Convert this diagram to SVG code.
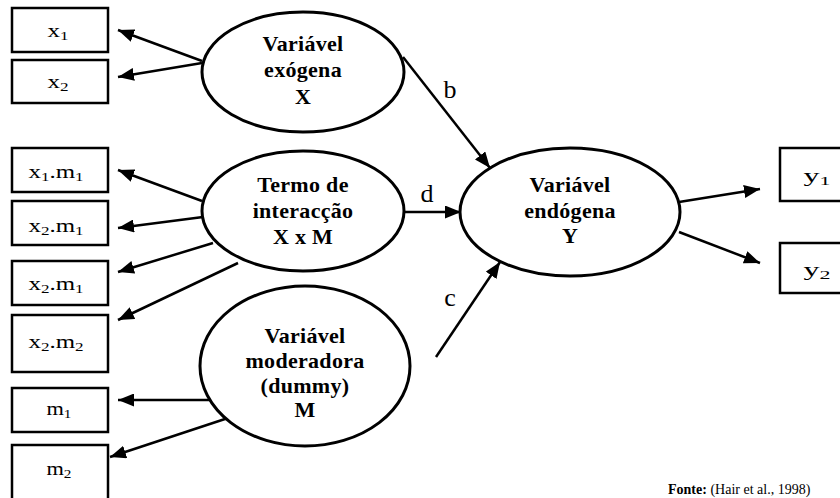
<svg xmlns="http://www.w3.org/2000/svg" width="840" height="498" viewBox="0 0 840 498">
  <defs>
    <marker id="arrow" markerUnits="userSpaceOnUse" markerWidth="16" markerHeight="13" refX="16" refY="6.5" orient="auto">
      <path d="M0,0 L16,6.5 L0,13 z" fill="#000"/>
    </marker>
    <style>
      .box { fill: #fff; stroke: #000; stroke-width: 2.5; }
      .lv { fill: #fff; stroke: #000; stroke-width: 3; }
      .edge { fill: none; stroke: #000; stroke-width: 2.5; marker-end: url(#arrow); }
      text { font-family: 'Liberation Serif', 'DejaVu Serif', serif; fill: #000; }
      .ind { font-size: 19px; text-anchor: middle; }
      .sub { font-size: 13px; }
      .lvt { font-size: 22px; font-weight: bold; letter-spacing: 0.3px; text-anchor: middle; }
      .lab { font-size: 26px; text-anchor: middle; }
      .src { font-size: 14px; }
    </style>
  </defs>
  <rect width="840" height="498" fill="#fff"/>

  <!-- connectors -->
  <g id="connectors">
    <line class="edge" x1="202" y1="61" x2="118" y2="30"/>
    <line class="edge" x1="202" y1="63" x2="118" y2="77"/>
    <line class="edge" x1="403" y1="57" x2="490" y2="168"/>
    <line class="edge" x1="202" y1="201" x2="118" y2="170"/>
    <line class="edge" x1="203" y1="217" x2="118" y2="228"/>
    <line class="edge" x1="213" y1="243" x2="118" y2="272"/>
    <line class="edge" x1="238" y1="263" x2="118" y2="320"/>
    <line class="edge" x1="405" y1="212" x2="461" y2="212"/>
    <line class="edge" x1="213" y1="400" x2="118" y2="400"/>
    <line class="edge" x1="228" y1="418" x2="110" y2="457"/>
    <line class="edge" x1="436" y1="357" x2="500" y2="262"/>
    <line class="edge" x1="679" y1="202" x2="760" y2="189"/>
    <line class="edge" x1="679" y1="232" x2="760" y2="263"/>
    <text class="lab" x="450" y="98">b</text>
    <text class="lab" x="427" y="202">d</text>
    <text class="lab" x="450" y="306">c</text>
  </g>

  <!-- observed indicators -->
  <g id="ind-x1"><rect class="box" x="12" y="8" width="96" height="44"/><text class="ind" x="58" y="37" textLength="21" lengthAdjust="spacingAndGlyphs">x<tspan class="sub" dy="3">1</tspan></text></g>
  <g id="ind-x2"><rect class="box" x="12" y="60" width="96" height="43"/><text class="ind" x="58" y="88" textLength="21" lengthAdjust="spacingAndGlyphs">x<tspan class="sub" dy="3">2</tspan></text></g>
  <g id="ind-x1m1"><rect class="box" x="12" y="148" width="96" height="44"/><text class="ind" x="56" y="178" textLength="55" lengthAdjust="spacingAndGlyphs">x<tspan class="sub" dy="3">1</tspan><tspan dy="-3">.m</tspan><tspan class="sub" dy="3">1</tspan></text></g>
  <g id="ind-x2m1a"><rect class="box" x="12" y="201" width="96" height="44"/><text class="ind" x="56" y="232" textLength="55" lengthAdjust="spacingAndGlyphs">x<tspan class="sub" dy="3">2</tspan><tspan dy="-3">.m</tspan><tspan class="sub" dy="3">1</tspan></text></g>
  <g id="ind-x2m1b"><rect class="box" x="12" y="261" width="96" height="44"/><text class="ind" x="56" y="290" textLength="55" lengthAdjust="spacingAndGlyphs">x<tspan class="sub" dy="3">2</tspan><tspan dy="-3">.m</tspan><tspan class="sub" dy="3">1</tspan></text></g>
  <g id="ind-x2m2"><rect class="box" x="12" y="315" width="96" height="57"/><text class="ind" x="56" y="348" textLength="55" lengthAdjust="spacingAndGlyphs">x<tspan class="sub" dy="3">2</tspan><tspan dy="-3">.m</tspan><tspan class="sub" dy="3">2</tspan></text></g>
  <g id="ind-m1"><rect class="box" x="12" y="388" width="96" height="44"/><text class="ind" x="59" y="415" textLength="25" lengthAdjust="spacingAndGlyphs">m<tspan class="sub" dy="3">1</tspan></text></g>
  <g id="ind-m2"><rect class="box" x="12" y="445" width="96" height="60"/><text class="ind" x="59" y="475" textLength="25" lengthAdjust="spacingAndGlyphs">m<tspan class="sub" dy="3">2</tspan></text></g>
  <g id="ind-y1"><rect class="box" x="780" y="148" width="70" height="53"/><text class="ind" x="817" y="182" textLength="27" lengthAdjust="spacingAndGlyphs">y<tspan class="sub" dy="3">1</tspan></text></g>
  <g id="ind-y2"><rect class="box" x="780" y="243" width="70" height="50"/><text class="ind" x="817" y="276" textLength="27" lengthAdjust="spacingAndGlyphs">y<tspan class="sub" dy="3">2</tspan></text></g>

  <!-- latent variables -->
  <g id="lv-x">
    <ellipse class="lv" cx="303" cy="72" rx="101" ry="60"/>
    <text class="lvt" x="303" y="51">Variável</text>
    <text class="lvt" x="303" y="77">exógena</text>
    <text class="lvt" x="303" y="104">X</text>
  </g>
  <g id="lv-xm">
    <ellipse class="lv" cx="303" cy="211" rx="101" ry="60"/>
    <text class="lvt" x="303" y="192">Termo de</text>
    <text class="lvt" x="303" y="218">interacção</text>
    <text class="lvt" x="303" y="244">X x M</text>
  </g>
  <g id="lv-m">
    <ellipse class="lv" cx="305" cy="366" rx="105" ry="80"/>
    <text class="lvt" x="305" y="343">Variável</text>
    <text class="lvt" x="305" y="368">moderadora</text>
    <text class="lvt" x="305" y="393">(dummy)</text>
    <text class="lvt" x="305" y="417">M</text>
  </g>
  <g id="lv-y">
    <ellipse class="lv" cx="570" cy="212" rx="110" ry="64"/>
    <text class="lvt" x="570" y="192">Variável</text>
    <text class="lvt" x="570" y="218">endógena</text>
    <text class="lvt" x="570" y="243">Y</text>
  </g>

  <text class="src" x="668" y="494"><tspan font-weight="bold">Fonte:</tspan> (Hair et al., 1998)</text>
</svg>
